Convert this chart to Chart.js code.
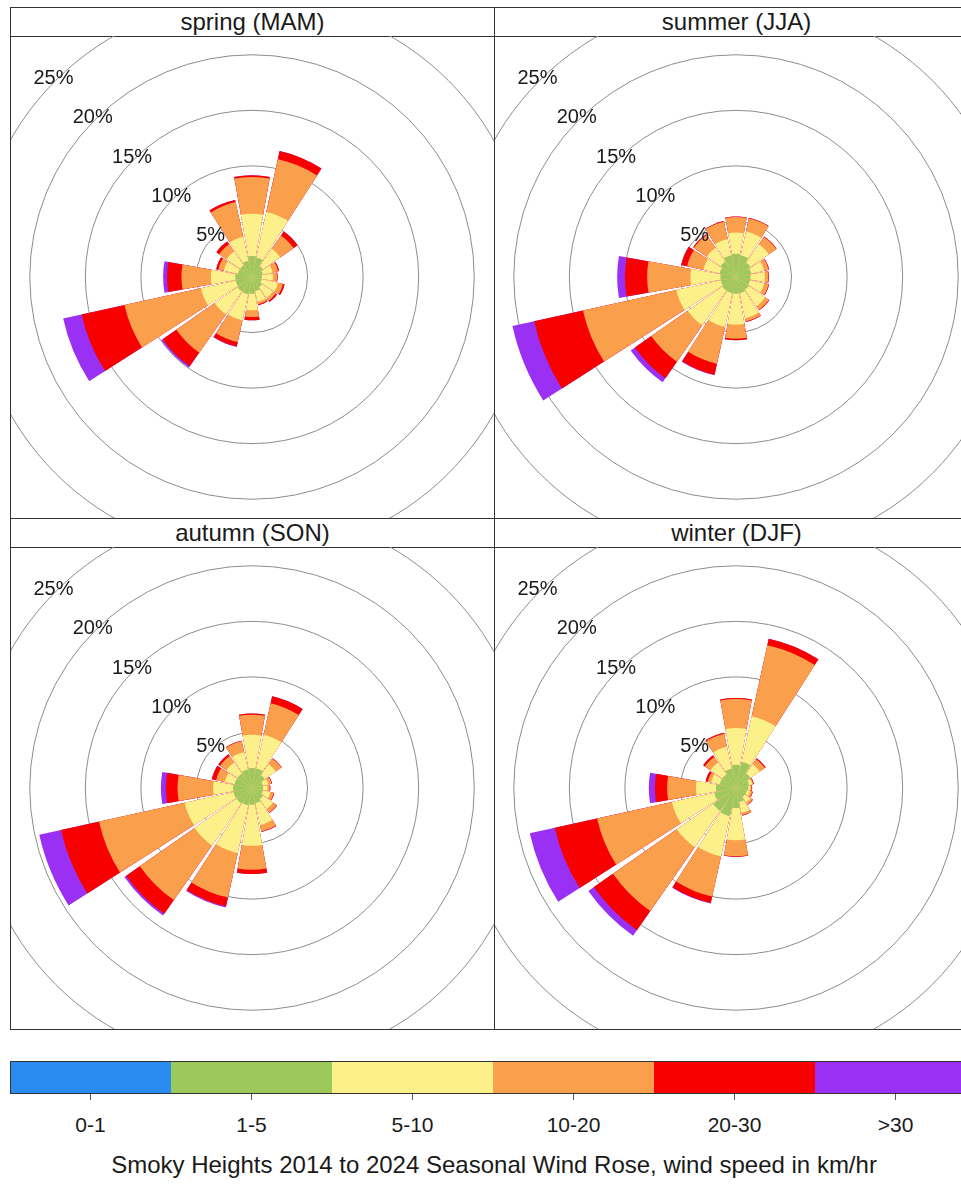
<!DOCTYPE html>
<html>
<head>
<meta charset="utf-8">
<script src="https://cdn.jsdelivr.net/npm/chart.js"></script>
<style>
  html, body { margin: 0; padding: 0; background: #fff; }
  #page { position: relative; width: 961px; height: 1185px; overflow: hidden;
          font-family: "Liberation Sans", Arial, sans-serif; color: #1a1a1a; }
  .frame { position: absolute; box-sizing: border-box; border: 1px solid #333; }
  .strip { position: absolute; box-sizing: border-box; border: 1px solid #333;
           text-align: center; font-size: 24px; line-height: 27px; background: #fff; }
  .plot { position: absolute; overflow: hidden; }
  .plot canvas { position: absolute; }
  .bar { position: absolute; top: 1061px; height: 32px; }
  .tick { position: absolute; top: 1093px; width: 1px; height: 7px; background: #555; }
  .blabel { position: absolute; top: 1113px; width: 161px; text-align: center; font-size: 21px; }
  #caption { position: absolute; left: 0; top: 1151px; width: 988px; text-align: center; font-size: 24px; }
</style>
</head>
<body>
<div id="page"></div>
<script>
// wind directions, clockwise from north
const directions = ['N', 'NNE', 'NE', 'ENE', 'E', 'ESE', 'SE', 'SSE', 'S', 'SSW', 'SW', 'WSW', 'W', 'WNW', 'NW', 'NNW'];
const speedBands = ['0-1', '1-5', '5-10', '10-20', '20-30', '>30'];
const bandColours = ['#2a8cf0', '#9cc85c', '#fcf08a', '#faa04c', '#f80000', '#9b30f5'];
const ringTicks = [5, 10, 15, 20, 25];
const seasonTitles = ['spring (MAM)', 'summer (JJA)', 'autumn (SON)', 'winter (DJF)'];

// % of hours, one row per speed band, one column per direction
const spring = [
  [0, 0, 0, 0, 0, 0, 0, 0, 0, 0, 0, 0, 0, 0, 0, 0],
  [1.9, 1.8, 1.2, 1.0, 0.9, 0.9, 1.1, 1.3, 1.5, 1.6, 1.6, 1.5, 1.5, 1.3, 1.3, 1.5],
  [3.8, 4.2, 1.9, 0.9, 1.0, 1.5, 1.2, 1.0, 1.5, 2.4, 2.5, 3.2, 2.2, 1.3, 1.5, 2.2],
  [3.3, 4.85, 1.45, 0.5, 0.35, 0.45, 0.3, 0.2, 0.6, 2.0, 4.2, 7.05, 2.65, 0.5, 0.8, 3.2],
  [0.15, 0.75, 0.45, 0.1, 0.05, 0.15, 0.15, 0.1, 0.3, 0.4, 1.5, 3.95, 1.3, 0.2, 0.3, 0.2],
  [0, 0, 0, 0, 0, 0, 0, 0, 0, 0.05, 0.15, 1.7, 0.35, 0, 0, 0]
];
const summer = [
  [0, 0, 0, 0, 0, 0, 0, 0, 0, 0, 0, 0, 0, 0, 0, 0],
  [2.1, 2.0, 1.6, 1.4, 1.3, 1.3, 1.4, 1.5, 1.5, 1.5, 1.5, 1.4, 1.4, 1.5, 1.7, 2.0],
  [1.9, 2.2, 2.0, 1.2, 1.3, 1.3, 1.8, 2.3, 2.8, 3.1, 3.8, 4.1, 2.7, 1.5, 1.5, 1.5],
  [1.4, 1.2, 0.8, 0.4, 0.3, 0.4, 0.4, 0.3, 1.25, 3.4, 4.0, 8.6, 3.9, 1.5, 1.4, 1.6],
  [0.05, 0.05, 0.05, 0.05, 0.05, 0.05, 0.05, 0.05, 0.15, 1.0, 1.8, 4.5, 2.0, 0.55, 0.1, 0.05],
  [0, 0, 0, 0, 0, 0, 0, 0, 0, 0.05, 0.45, 2.0, 0.7, 0, 0, 0]
];
const autumn = [
  [0, 0, 0, 0, 0, 0, 0, 0, 0, 0, 0, 0, 0, 0, 0, 0],
  [1.8, 1.8, 1.4, 1.0, 1.0, 1.0, 1.2, 1.4, 1.5, 1.6, 1.7, 1.7, 1.7, 1.6, 1.6, 1.7],
  [3.0, 3.1, 1.2, 0.5, 0.4, 0.7, 1.1, 2.0, 3.7, 4.4, 4.6, 4.5, 1.8, 0.9, 1.2, 1.6],
  [1.8, 2.9, 0.6, 0.3, 0.2, 0.3, 0.4, 0.6, 2.15, 4.1, 6.0, 7.9, 3.2, 0.8, 0.7, 1.0],
  [0.1, 0.65, 0.05, 0.05, 0.05, 0.05, 0.05, 0.05, 0.4, 0.8, 1.5, 3.5, 1.05, 0.4, 0.2, 0.05],
  [0, 0, 0, 0, 0, 0, 0, 0, 0, 0.1, 0.2, 2.0, 0.45, 0, 0, 0]
];
const winter = [
  [0, 0, 0, 0, 0, 0, 0, 0, 0, 0, 0, 0, 0, 0, 0, 0],
  [2.1, 2.4, 1.6, 1.2, 1.1, 1.0, 1.0, 1.3, 1.8, 2.6, 2.5, 2.0, 1.8, 1.5, 1.5, 1.8],
  [3.3, 4.2, 1.0, 0.3, 0.2, 0.3, 0.6, 1.0, 2.9, 3.7, 4.0, 3.9, 1.8, 0.8, 1.3, 2.0],
  [2.6, 6.55, 0.55, 0.1, 0.1, 0.2, 0.2, 0.2, 1.45, 3.7, 7.0, 6.9, 2.6, 0.3, 0.6, 1.2],
  [0.1, 0.6, 0.1, 0.05, 0.05, 0.05, 0.05, 0.05, 0.05, 0.6, 2.1, 3.9, 1.1, 0.2, 0.2, 0.1],
  [0, 0, 0, 0, 0, 0, 0, 0, 0, 0.05, 0.6, 2.3, 0.55, 0, 0, 0]
];
const seasons = [spring, summer, autumn, winter];

const wedgeDeg = 20.25;  // 0.9 of each 22.5 deg sector, the rest is a gap
const gapDeg = 2.25;
const rMax = 31.5;       // chosen so the 25% ring lands where it does in the original
const canvasSize = 700;

// percent labels along the NW diagonal
const ringLabels = {
  id: 'ringLabels',
  afterDatasetsDraw(chart) {
    const s = chart.scales.r;
    const ctx = chart.ctx;
    ctx.save();
    ctx.font = '20px "Liberation Sans", Arial, sans-serif';
    ctx.fillStyle = '#1a1a1a';
    ctx.textAlign = 'center';
    ctx.textBaseline = 'middle';
    ringTicks.forEach(v => {
      const d = s.getDistanceFromCenterForValue(v) + 3;
      ctx.fillText(v + '%', s.xCenter - d * Math.SQRT1_2, s.yCenter - d * Math.SQRT1_2);
    });
    ctx.restore();
  }
};

// stacked rose: each band is drawn as a cumulative polar area, smallest on top
function roseDatasets(season) {
  const running = directions.map(() => 0);
  return speedBands.map((band, b) => {
    season[b].forEach((v, i) => { running[i] += v; });
    const data = [];
    running.forEach(v => data.push(+v.toFixed(2), 0));
    return {
      label: band,
      data: data,
      backgroundColor: bandColours[b],
      borderWidth: 0,
      angle: ctx => (ctx.dataIndex % 2 ? gapDeg : wedgeDeg)
    };
  });
}

const page = document.getElementById('page');

seasons.forEach((season, k) => {
  const col = k % 2, row = Math.floor(k / 2);
  const left = 10 + col * 484;
  const stripTop = row === 0 ? 7 : 518;
  const plotTop = stripTop + 29;
  const plotH = 482;

  const frame = document.createElement('div');
  frame.className = 'frame';
  Object.assign(frame.style, { left: left + 'px', top: stripTop + 'px', width: '485px', height: (plotTop + plotH - stripTop + 1) + 'px' });
  page.appendChild(frame);

  const strip = document.createElement('div');
  strip.className = 'strip';
  strip.textContent = seasonTitles[k];
  Object.assign(strip.style, { left: left + 'px', top: stripTop + 'px', width: '485px', height: '30px' });
  page.appendChild(strip);

  const plot = document.createElement('div');
  plot.className = 'plot';
  Object.assign(plot.style, { left: (left + 1) + 'px', top: plotTop + 'px', width: '483px', height: plotH + 'px' });
  const canvas = document.createElement('canvas');
  canvas.width = canvasSize;
  canvas.height = canvasSize;
  canvas.style.left = (241 - canvasSize / 2) + 'px';
  canvas.style.top = (plotH / 2 - canvasSize / 2) + 'px';
  plot.appendChild(canvas);
  page.appendChild(plot);

  new Chart(canvas, {
    type: 'polarArea',
    data: {
      labels: directions.flatMap(d => [d, '']),
      datasets: roseDatasets(season)
    },
    options: {
      responsive: false,
      animation: false,
      plugins: { legend: { display: false }, tooltip: { enabled: false } },
      scales: {
        r: {
          min: 0,
          max: rMax,
          startAngle: -wedgeDeg / 2,
          ticks: { display: false, stepSize: 5 },
          grid: {
            color: c => (c.tick && c.tick.value > 25 ? 'rgba(0,0,0,0)' : '#8c8c8c'),
            lineWidth: 1
          },
          angleLines: { display: false },
          pointLabels: { display: false }
        }
      }
    },
    plugins: [ringLabels]
  });
});

// colour key
speedBands.forEach((band, i) => {
  const x = 10 + i * 161;
  const seg = document.createElement('div');
  seg.className = 'bar';
  Object.assign(seg.style, { left: x + 'px', width: '161px', background: bandColours[i] });
  page.appendChild(seg);
  const t = document.createElement('div');
  t.className = 'tick';
  t.style.left = (x + 80) + 'px';
  page.appendChild(t);
  const lab = document.createElement('div');
  lab.className = 'blabel';
  lab.style.left = x + 'px';
  lab.textContent = band;
  page.appendChild(lab);
});
const barBorder = document.createElement('div');
barBorder.className = 'frame';
Object.assign(barBorder.style, { left: '10px', top: '1061px', width: '966px', height: '33px', borderColor: '#333' });
page.appendChild(barBorder);

const caption = document.createElement('div');
caption.id = 'caption';
caption.textContent = 'Smoky Heights 2014 to 2024 Seasonal Wind Rose, wind speed in km/hr';
page.appendChild(caption);
</script>
</body>
</html>
